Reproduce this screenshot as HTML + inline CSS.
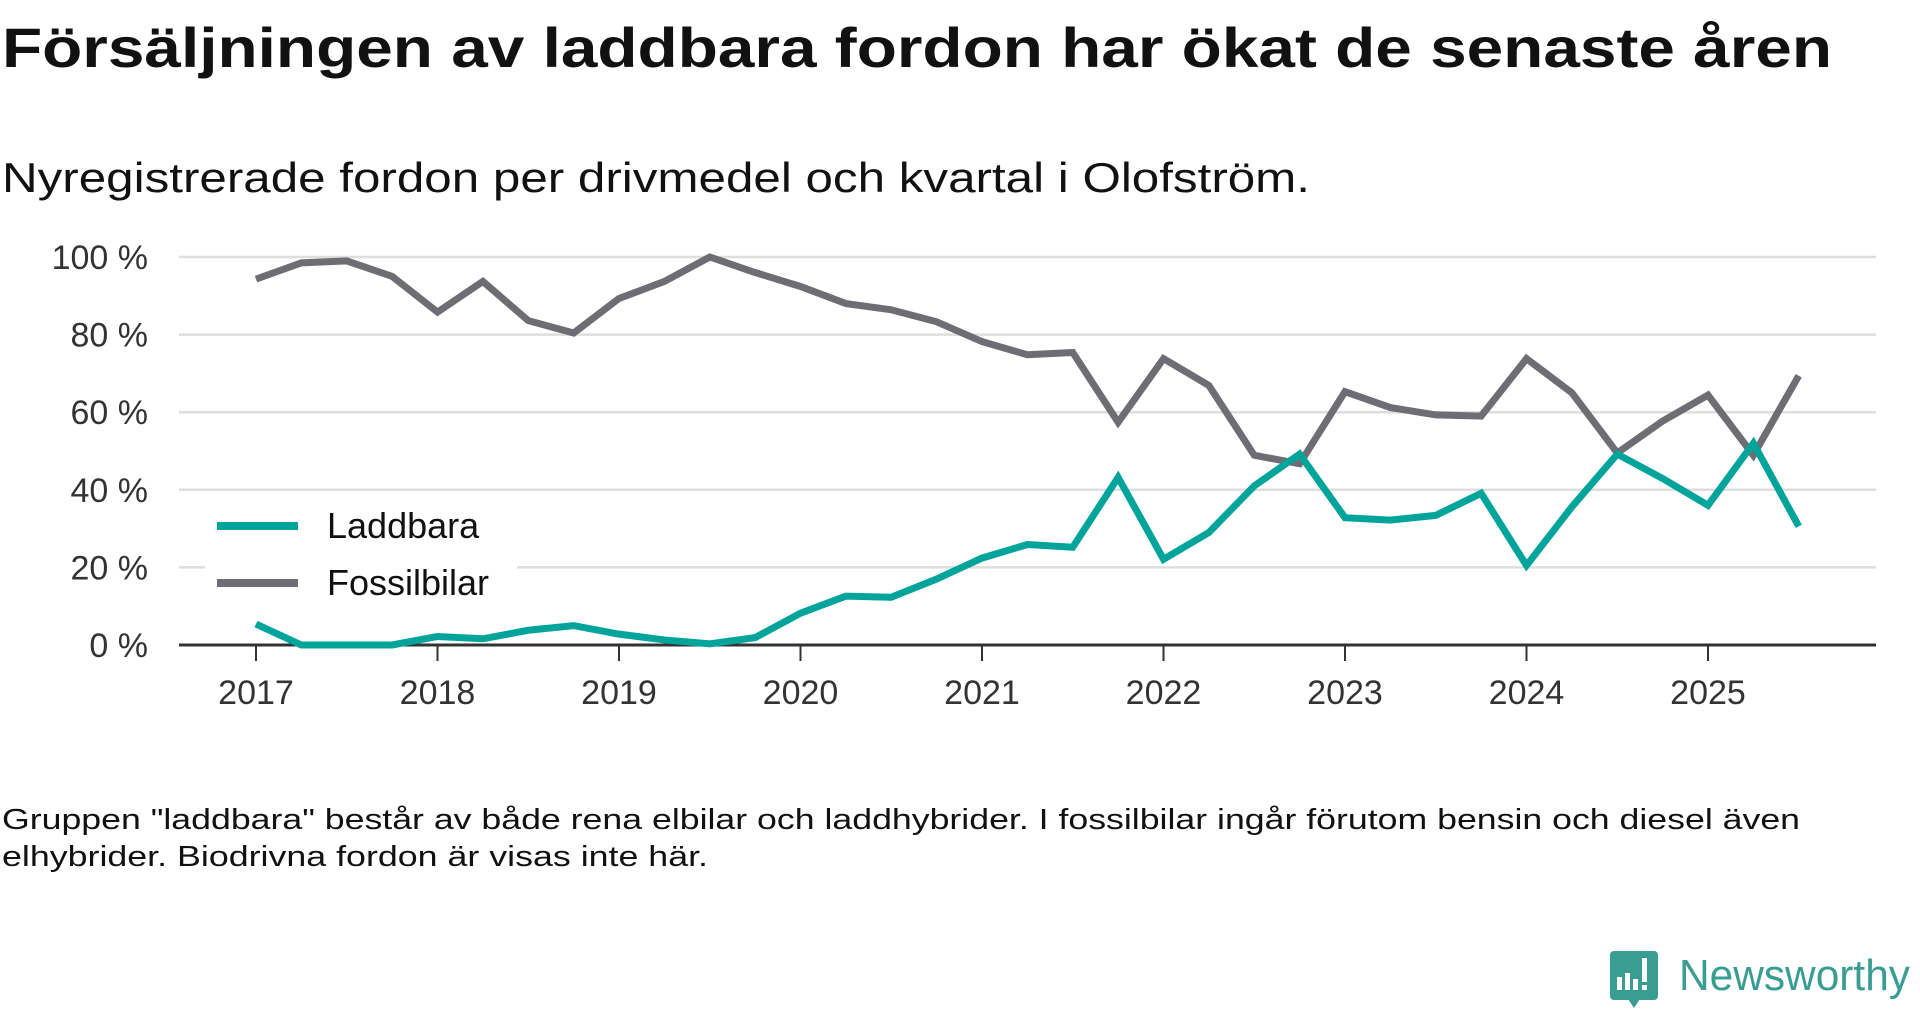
<!DOCTYPE html>
<html><head><meta charset="utf-8">
<style>
html,body{margin:0;padding:0;background:#fff;}
svg{display:block;font-family:"Liberation Sans",sans-serif;}
</style></head>
<body>
<svg id="chart" width="1920" height="1010" viewBox="0 0 1920 1010" xmlns="http://www.w3.org/2000/svg">
<text x="2" y="67" font-size="56" font-weight="bold" fill="#111" textLength="1830" lengthAdjust="spacingAndGlyphs">Försäljningen av laddbara fordon har ökat de senaste åren</text>
<text x="2" y="192" font-size="42" fill="#111" textLength="1308" lengthAdjust="spacingAndGlyphs">Nyregistrerade fordon per drivmedel och kvartal i Olofström.</text>
<g id="grid"></g>
<g id="yticks"></g>
<g id="xticks"></g>
<g id="series"></g>
<g>
<rect x="205" y="500" width="312" height="110" fill="#fff"/>
<g>
<line x1="217" y1="526" x2="298" y2="526" stroke="#00a49a" stroke-width="8"/>
<text x="327" y="538" font-size="36" fill="#111">Laddbara</text></g>
<g>
<line x1="217" y1="583" x2="298" y2="583" stroke="#6e6d74" stroke-width="8"/>
<text x="327" y="595" font-size="36" fill="#111">Fossilbilar</text></g>
</g>
<text x="2" y="829" font-size="29" fill="#111" textLength="1798" lengthAdjust="spacingAndGlyphs">Gruppen "laddbara" består av både rena elbilar och laddhybrider. I fossilbilar ingår förutom bensin och diesel även</text>
<text x="2" y="866" font-size="29" fill="#111" textLength="706" lengthAdjust="spacingAndGlyphs">elhybrider. Biodrivna fordon är visas inte här.</text>
<g>
<rect x="1610" y="951" width="48" height="49" rx="4" fill="#3a9d92"/>
<polygon points="1628,999 1640,999 1634,1008" fill="#3a9d92"/>
<rect x="1617" y="977" width="5" height="13" fill="#fff"/>
<rect x="1625" y="973" width="5" height="17" fill="#fff"/>
<rect x="1633" y="979" width="5" height="11" fill="#fff"/>
<rect x="1642" y="958" width="5" height="24" fill="#fff"/>
<rect x="1642" y="985" width="5" height="5" fill="#fff"/>
<text x="1679" y="990" font-size="44" fill="#3a9d92" textLength="231" lengthAdjust="spacingAndGlyphs">Newsworthy</text>
</g>
</svg>
<script>
const years = ["2017","2018","2019","2020","2021","2022","2023","2024","2025"];
const yTicks = [0,20,40,60,80,100];
const laddbara = [5.4,0,0,0,2.2,1.6,3.8,5,2.8,1.3,0.3,1.9,8.2,12.6,12.3,17,22.4,25.9,25.2,43.2,22.1,29,41,49.2,32.8,32.2,33.4,39.1,20.5,35.6,49.2,42.9,36,52,30.6];
const fossil = [94.3,98.5,99,95,85.8,93.7,83.6,80.4,89.3,93.7,100,96,92.4,88,86.4,83.3,78.2,74.8,75.4,57.4,73.8,66.9,48.9,46.7,65.3,61.2,59.3,59,73.8,65,49.5,57.7,64.4,48.9,69.4];

const NS='http://www.w3.org/2000/svg';
const x0=256, yearW=(1708-256)/8, xL=179, xR=1876;
const yTop=257, yBot=645;
const xq = i => x0 + i*yearW/4;
const yv = v => yBot - (v/100)*(yBot-yTop);
function mk(tag, attrs, parent){const e=document.createElementNS(NS,tag);for(const k in attrs)e.setAttribute(k,attrs[k]);parent.appendChild(e);return e;}
const grid=document.getElementById('grid'), yt=document.getElementById('yticks'), xt=document.getElementById('xticks'), ser=document.getElementById('series');
yTicks.forEach(t=>{
  if(t>0){const l=mk('line',{x1:xL,x2:xR,y1:yv(t),y2:yv(t),stroke:'#dedede','stroke-width':2.5},grid);
  
  }
  const tx=mk('text',{x:148,y:yv(t)+12,'font-size':34,fill:'#333','text-anchor':'end'},yt);
  tx.textContent=t+' %';
  
  
});
const ax=mk('line',{x1:xL,x2:xR,y1:yBot,y2:yBot,stroke:'#333','stroke-width':3},xt);


years.forEach((y,i)=>{
  const x=x0+i*yearW;
  const tk=mk('line',{x1:x,x2:x,y1:yBot,y2:yBot+16,stroke:'#333','stroke-width':2},xt);
  
  
  const tx=mk('text',{x:x,y:704,'font-size':34,fill:'#333','text-anchor':'middle'},xt);
  tx.textContent=y;
  
  
});
function line(data,color,name){
  const p=mk('polyline',{points:data.map((v,i)=>xq(i)+','+yv(v)).join(' '),fill:'none',stroke:color,'stroke-width':7,'stroke-linejoin':'miter'},ser);
  
  
}
line(fossil,'#6e6d74','line-fossilbilar');
line(laddbara,'#00a49a','line-laddbara');
</script>
</body></html>
